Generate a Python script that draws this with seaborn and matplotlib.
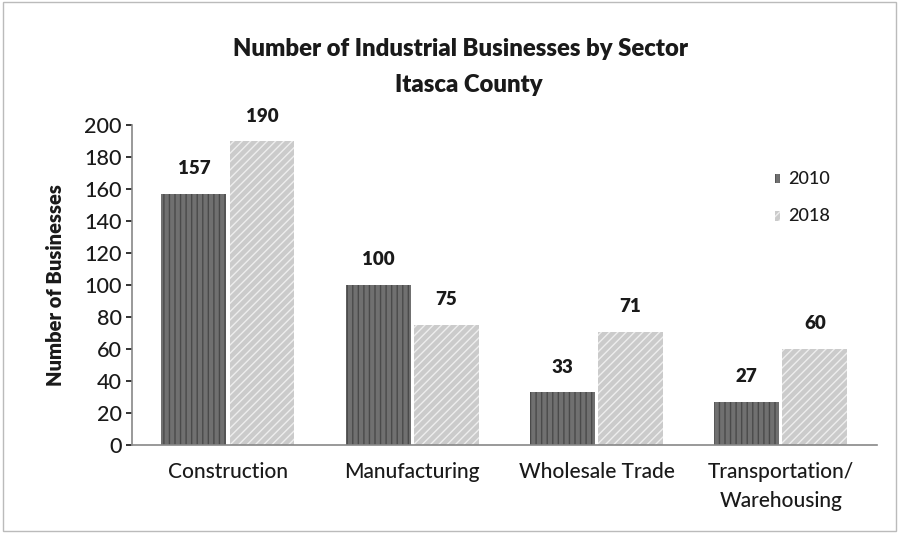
import matplotlib
matplotlib.use("Agg")
import matplotlib.pyplot as plt
import seaborn as sns
import pandas as pd
from matplotlib.patches import Rectangle

sectors = ["Construction", "Manufacturing", "Wholesale Trade", "Transportation/\nWarehousing"]
years = ["2010", "2018"]
values_2010 = [157, 100, 33, 27]
values_2018 = [190, 75, 71, 60]

df = pd.DataFrame({
    "Sector": sectors * 2,
    "Year": [years[0]] * 4 + [years[1]] * 4,
    "Businesses": values_2010 + values_2018,
})

sns.set_theme(style="white")
plt.rcParams["font.family"] = ["Lato", "DejaVu Sans"]
plt.rcParams["hatch.linewidth"] = 1.0

fig = plt.figure(figsize=(8.99, 5.33), dpi=100)
ax = fig.add_axes([0.147, 0.165, 0.828, 0.60])

palette = {"2010": "#707070", "2018": "#cbcbcb"}
sns.barplot(data=df, x="Sector", y="Businesses", hue="Year", palette=palette,
            width=0.74, gap=0.05, ax=ax, saturation=1, legend=False)

hatches = {"2010": "|||", "2018": "////"}
hatch_colors = {"2010": "#4a4a4a", "2018": "#eeeeee"}
for container, yr in zip(ax.containers, years):
    for bar in container:
        bar.set_hatch(hatches[yr])
        bar.set_edgecolor(hatch_colors[yr])
        bar.set_linewidth(0)
    ax.bar_label(container, padding=12, fontsize=13.5, fontweight="heavy", color="#1a1a1a",
                 fmt="%d")

ax.set_ylim(0, 200)
ax.set_yticks(range(0, 201, 20))
ax.set_xlim(-0.52, 3.52)
ax.set_xlabel("")
ax.set_ylabel("Number of Businesses", fontsize=14.5, fontweight="heavy", color="#1a1a1a", labelpad=14)
ax.tick_params(axis="y", labelsize=15.5, colors="#1a1a1a", length=4, left=True, direction="out")
ax.tick_params(axis="x", labelsize=15, colors="#1a1a1a", length=0, pad=12)
for lbl in ax.get_xticklabels():
    lbl.set_linespacing(1.55)
    lbl.set_fontweight("medium")
for lbl in ax.get_yticklabels():
    lbl.set_fontweight("medium")
for s in ["top", "right"]:
    ax.spines[s].set_visible(False)
for s in ["left", "bottom"]:
    ax.spines[s].set_color("#888888")
    ax.spines[s].set_linewidth(1.2)

fig.text(0.512, 0.908, "Number of Industrial Businesses by Sector", ha="center", va="center",
         fontsize=17.2, fontweight="heavy", color="#1a1a1a")
fig.text(0.522, 0.84, "Itasca County", ha="center", va="center",
         fontsize=17.2, fontweight="heavy", color="#1a1a1a")

# legend entries at the right side of the plot
for i, yr in enumerate(years):
    y = 0.665 - i * 0.07
    fig.patches.append(Rectangle((0.862, y - 0.009), 0.006, 0.018, transform=fig.transFigure,
                                 facecolor=palette[yr], hatch=hatches[yr],
                                 edgecolor=hatch_colors[yr], linewidth=0))
    fig.text(0.877, y, yr, ha="left", va="center", fontsize=13, fontweight="medium",
             color="#1a1a1a")

# outer chart border
fig.patches.append(Rectangle((0.003, 0.004), 0.994, 0.992, transform=fig.transFigure,
                             fill=False, edgecolor="#bbbbbb", linewidth=1))

fig.savefig("out.png", dpi=100, facecolor="white")
